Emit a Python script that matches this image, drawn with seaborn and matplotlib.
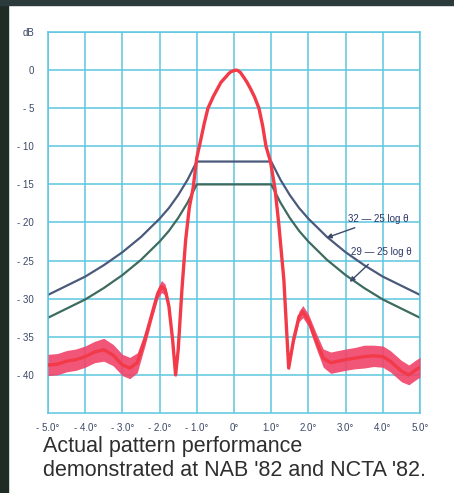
import numpy as np
import pandas as pd
import matplotlib
matplotlib.use("Agg")
import matplotlib.pyplot as plt
import seaborn as sns
from matplotlib.patches import Rectangle

# envelope curves (32 - 25 log theta and 29 - 25 log theta)
env_theta = [-5, -4.5, -4, -3.5, -3, -2.5, -2, -1.75, -1.5, -1.25, -1,
             1, 1.25, 1.5, 1.75, 2, 2.5, 3, 3.5, 4, 4.5, 5]
env_upper = [-29.5, -28.3, -27.1, -25.6, -23.9, -21.9, -19.5, -18.1, -16.4, -14.4, -12.0,
             -12.0, -14.4, -16.4, -18.1, -19.5, -21.9, -23.9, -25.6, -27.1, -28.3, -29.5]
env_lower = [-32.5, -31.3, -30.1, -28.6, -26.9, -24.9, -22.5, -21.1, -19.4, -17.4, -15.0,
             -15.0, -17.4, -19.4, -21.1, -22.5, -24.9, -26.9, -28.6, -30.1, -31.3, -32.5]

# measured antenna pattern
pat_theta = [-5.0, -4.75, -4.5, -4.25, -4.0, -3.75, -3.5, -3.25, -3.0, -2.8, -2.6, -2.4, -2.2,
             -2.05, -1.95, -1.85, -1.75, -1.65, -1.57, -1.5, -1.4, -1.3, -1.2, -1.1, -1.0,
             -0.9, -0.8, -0.7, -0.55, -0.45, -0.35, -0.22, -0.15, -0.08, 0.05, 0.1, 0.17,
             0.27, 0.35, 0.45, 0.55, 0.67, 0.77, 0.86, 0.98,
             1.1, 1.2, 1.34, 1.47, 1.6, 1.75, 1.85, 2.0, 2.2, 2.4, 2.6, 2.8, 3.0, 3.25,
             3.5, 3.75, 4.0, 4.2, 4.5, 4.7, 4.9, 5.0]
pat_db = [-38.7, -38.6, -38.2, -38.0, -37.6, -37.0, -36.7, -37.4, -38.7, -39.1, -38.4, -35.4, -31.9,
          -29.3, -28.4, -28.8, -31.0, -35.4, -40.0, -36.7, -28.8, -22.3, -18.0, -15.5, -11.5,
          -9.3, -7.0, -5.0, -3.4, -2.5, -1.6, -0.9, -0.5, -0.2, 0.0, -0.05, -0.3,
          -1.0, -1.6, -2.5, -3.5, -5.0, -7.3, -10.0, -12.0,
          -15.5, -20.0, -27.5, -39.1, -35.4, -32.3, -31.7, -32.8, -35.4, -37.8, -38.4, -38.2, -38.0, -37.8,
          -37.6, -37.5, -37.6, -38.2, -39.5, -40.0, -39.3, -39.0]
# half-width of the noisy trace (dB)
pat_spread = [1.4, 1.4, 1.4, 1.4, 1.4, 1.4, 1.5, 1.4, 1.4, 1.4, 1.3, 0.9, 0.7,
              0.7, 0.8, 0.7, 0.6, 0.4, 0.3, 0.4, 0.4, 0, 0, 0, 0,
              0, 0, 0, 0, 0, 0, 0, 0, 0, 0, 0, 0,
              0, 0, 0, 0, 0, 0, 0, 0,
              0, 0, 0, 0.3, 0.6, 0.7, 0.8, 0.8, 1.0, 1.2, 1.4, 1.4, 1.4, 1.4,
              1.5, 1.4, 1.4, 1.4, 1.4, 1.3, 1.3, 1.3]

x_ticks = [-5, -4, -3, -2, -1, 0, 1, 2, 3, 4, 5]
x_labels = ["- 5.0°", "- 4.0°", "- 3.0°", "- 2.0°", "- 1.0°", "0°",
            "1.0°", "2.0°", "3.0°", "4.0°", "5.0°"]
y_ticks = [5, 0, -5, -10, -15, -20, -25, -30, -35, -40]
y_labels = ["dB", "0", "- 5", "- 10", "- 15", "- 20", "- 25", "- 30", "- 35", "- 40"]

env = pd.DataFrame({"theta": env_theta, "upper": env_upper, "lower": env_lower})
pat = pd.DataFrame({"theta": pat_theta, "db": pat_db, "spread": pat_spread})

sns.set_style("white")
plt.rcParams["font.family"] = ["Liberation Sans", "DejaVu Sans"]

fig = plt.figure(figsize=(4.54, 4.93), dpi=100)
ax = fig.add_axes([48 / 454, 1 - 413 / 493, 372 / 454, 381 / 493])

grid_c = "#5ec6df"
ax.set_xlim(-5, 5)
ax.set_ylim(-45, 5)
ax.set_xticks(x_ticks, x_labels, fontsize=7, color="#3b4766")
ax.set_yticks(y_ticks, y_labels, fontsize=7, color="#3b4766")
ax.tick_params(length=0, pad=7)
ax.tick_params(axis="y", pad=10)
ax.grid(True, color=grid_c, lw=1.1)
for s in ax.spines.values():
    s.set_color(grid_c)
    s.set_linewidth(1.1)

sns.lineplot(data=env, x="theta", y="upper", ax=ax, color="#4b5a7c", lw=1.6, sort=False)
sns.lineplot(data=env, x="theta", y="lower", ax=ax, color="#3e6b5f", lw=1.6, sort=False)

ax.fill_between(pat["theta"], pat["db"] - pat["spread"], pat["db"] + pat["spread"],
                color="#f0436a", alpha=0.9, lw=0, zorder=4)
sns.lineplot(data=pat, x="theta", y="db", ax=ax, color="#f23a48", lw=2.4, sort=False, zorder=5)

ax.set_xlabel("")
ax.set_ylabel("")

ax.annotate("32 — 25 log θ", xy=(2.49, -22.0), xytext=(3.06, -19.6),
            fontsize=7, color="#2c3766", va="center", ha="left",
            arrowprops=dict(arrowstyle="-|>", color="#3c4a6a", lw=1, mutation_scale=7,
                            shrinkA=0, shrinkB=0))
ax.annotate("29 — 25 log θ", xy=(3.11, -27.8), xytext=(3.14, -23.9),
            fontsize=7, color="#2c3766", va="center", ha="left",
            arrowprops=dict(arrowstyle="-|>", color="#3c4a6a", lw=1, mutation_scale=7,
                            shrinkA=4, shrinkB=0))

fig.text(43 / 454, 1 - 452 / 493, "Actual pattern performance", fontsize=15.5,
         color="#2e2e2e", va="baseline", ha="left")
fig.text(43 / 454, 1 - 476 / 493, "demonstrated at NAB '82 and NCTA '82.", fontsize=15.5,
         color="#2e2e2e", va="baseline", ha="left")

# dark scan edges
fig.patches.append(Rectangle((0, 0), 8 / 454, 1, transform=fig.transFigure,
                             color="#1f2b25", zorder=0))
fig.patches.append(Rectangle((0, 1 - 5 / 493), 1, 5 / 493, transform=fig.transFigure,
                             color="#2b3a3b", zorder=0))

fig.savefig("out.png", dpi=100)
